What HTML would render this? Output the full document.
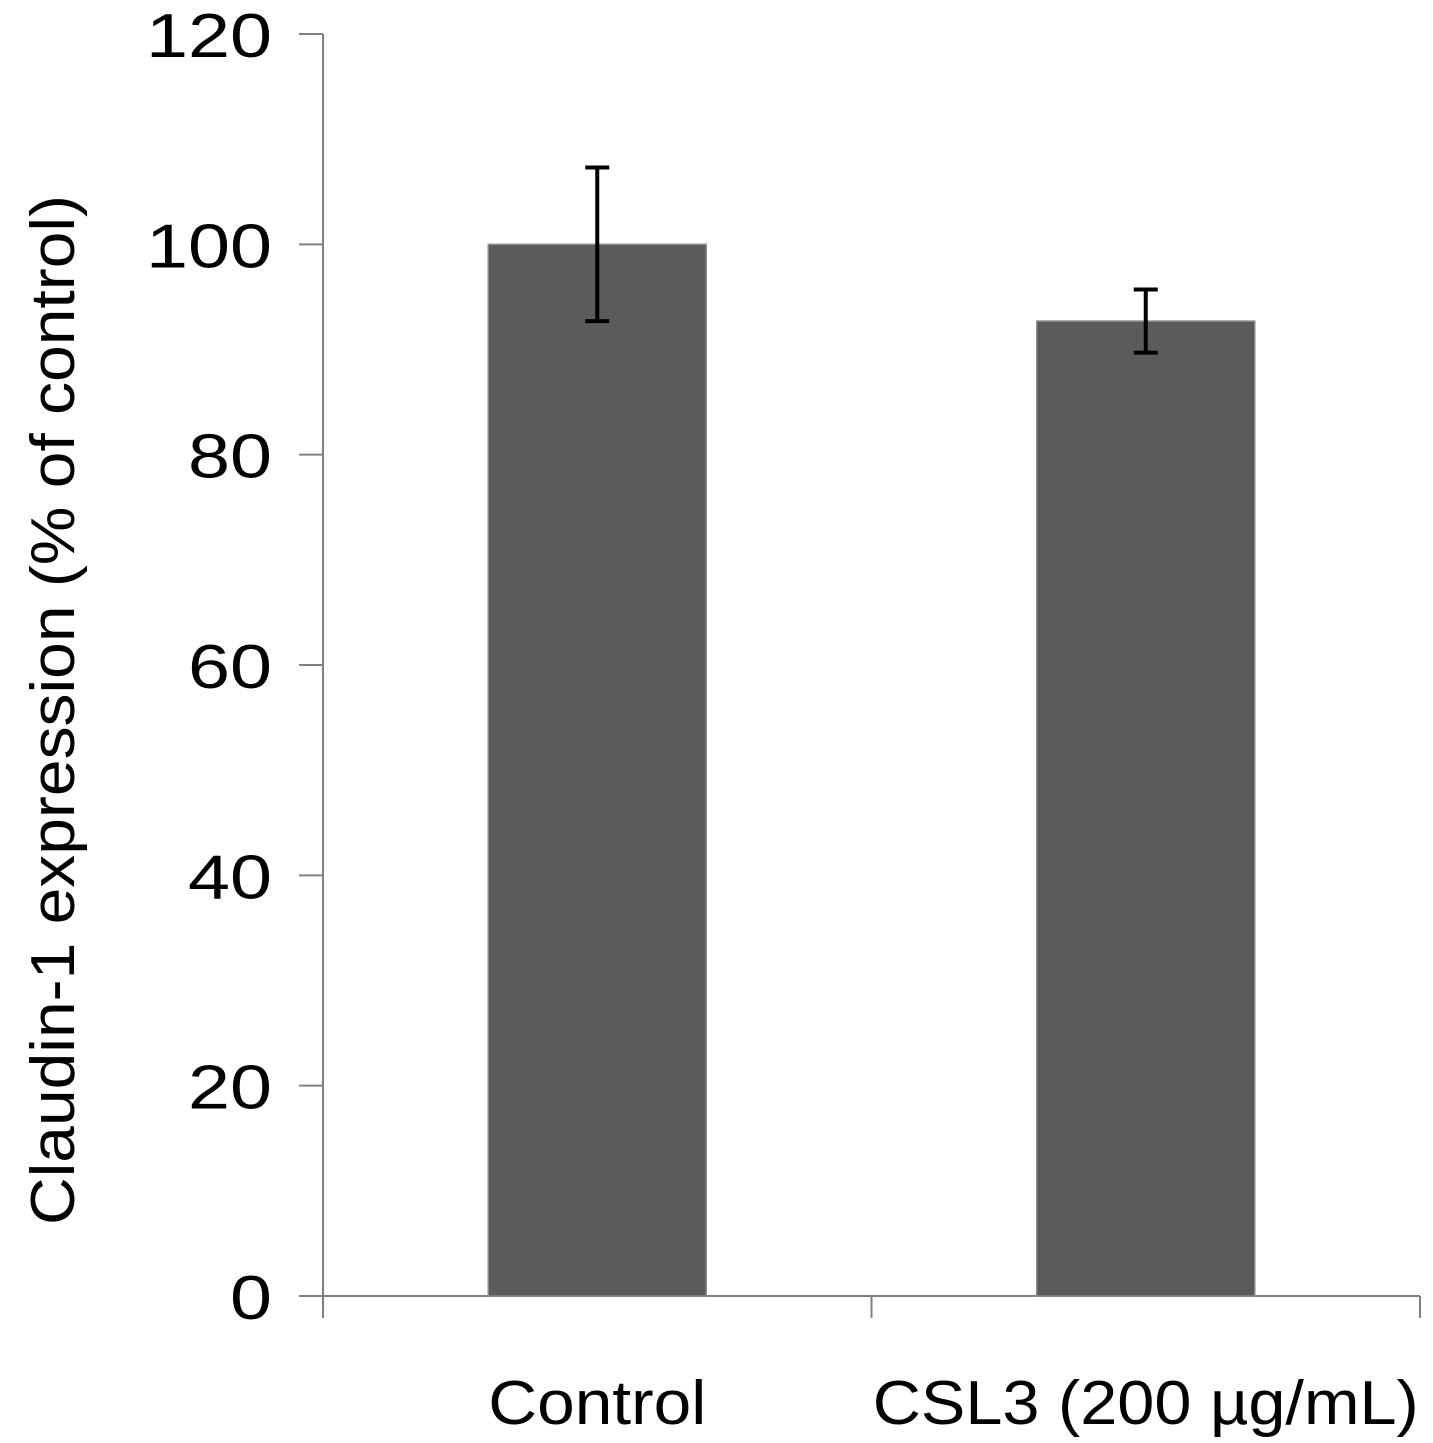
<!DOCTYPE html>
<html><head><meta charset="utf-8"><style>
html,body{margin:0;padding:0;background:#fff;}
svg{display:block;font-family:"Liberation Sans",Arial,sans-serif;}
</style></head><body>
<svg id="chart" width="1433" height="1443" viewBox="0 0 1433 1443" xmlns="http://www.w3.org/2000/svg"></svg>
<script>
const categories = ["Control", "CSL3 (200 µg/mL)"];
const values = [100, 92.7];
const errors = [7.3, 3.0];
const yTicks = [0, 20, 40, 60, 80, 100, 120];

const NS = "http://www.w3.org/2000/svg";
const svg = document.getElementById("chart");
const x0 = 323, x1 = 1420, yBase = 1296, yTop = 34, yMax = 120;
const y = v => yBase - (yBase - yTop) * v / yMax;
const bandW = (x1 - x0) / categories.length;
const barW = 218;
const xc = i => x0 + bandW * (i + 0.5);
function mk(tag, attrs, parent) {
  const e = document.createElementNS(NS, tag);
  for (const k in attrs) e.setAttribute(k, attrs[k]);
  (parent || svg).appendChild(e);
  return e;
}
const ya = mk("g", {});


mk("line", {x1: x0, y1: yTop, x2: x0, y2: yBase, stroke: "#808080", "stroke-width": 2}, ya);
yTicks.forEach(t => {
  mk("line", {x1: x0 - 24, y1: y(t), x2: x0, y2: y(t), stroke: "#808080", "stroke-width": 2}, ya);
  const s = String(t);
  const tx = mk("text", {x: 272, y: y(t) + 23, "text-anchor": "end", "font-size": 62, fill: "#000", textLength: s.length * 42, lengthAdjust: "spacingAndGlyphs"}, ya);
  
  
  tx.textContent = s;
});
const xa = mk("g", {});


mk("line", {x1: x0, y1: yBase, x2: x1, y2: yBase, stroke: "#808080", "stroke-width": 2}, xa);
for (let i = 0; i <= categories.length; i++) {
  const xt = x0 + bandW * i;
  mk("line", {x1: xt, y1: yBase, x2: xt, y2: yBase + 22, stroke: "#808080", "stroke-width": 2}, xa);
}
const labelW = [218, 546];
categories.forEach((c, i) => {
  const b = mk("rect", {x: xc(i) - barW / 2, y: y(values[i]), width: barW, height: yBase - y(values[i]), fill: "#5b5b5b", stroke: "#8a8a8a", "stroke-width": 1.5});
  
  
  const g = mk("g", {stroke: "#000", "stroke-width": 4});
  
  
  const hi = y(values[i] + errors[i]), lo = y(values[i] - errors[i]);
  mk("line", {x1: xc(i), y1: hi, x2: xc(i), y2: lo}, g);
  mk("line", {x1: xc(i) - 12, y1: hi, x2: xc(i) + 12, y2: hi}, g);
  mk("line", {x1: xc(i) - 12, y1: lo, x2: xc(i) + 12, y2: lo}, g);
  const t = mk("text", {x: xc(i), y: 1424, "text-anchor": "middle", "font-size": 62, fill: "#000", textLength: labelW[i], lengthAdjust: "spacingAndGlyphs"});
  
  
  t.textContent = c;
});
const yt = mk("text", {x: 0, y: 0, transform: "translate(74,710) rotate(-90)", "text-anchor": "middle", "font-size": 62, fill: "#000", textLength: 1030, lengthAdjust: "spacingAndGlyphs"});


yt.textContent = "Claudin-1 expression (% of control)";
</script>
</body></html>
